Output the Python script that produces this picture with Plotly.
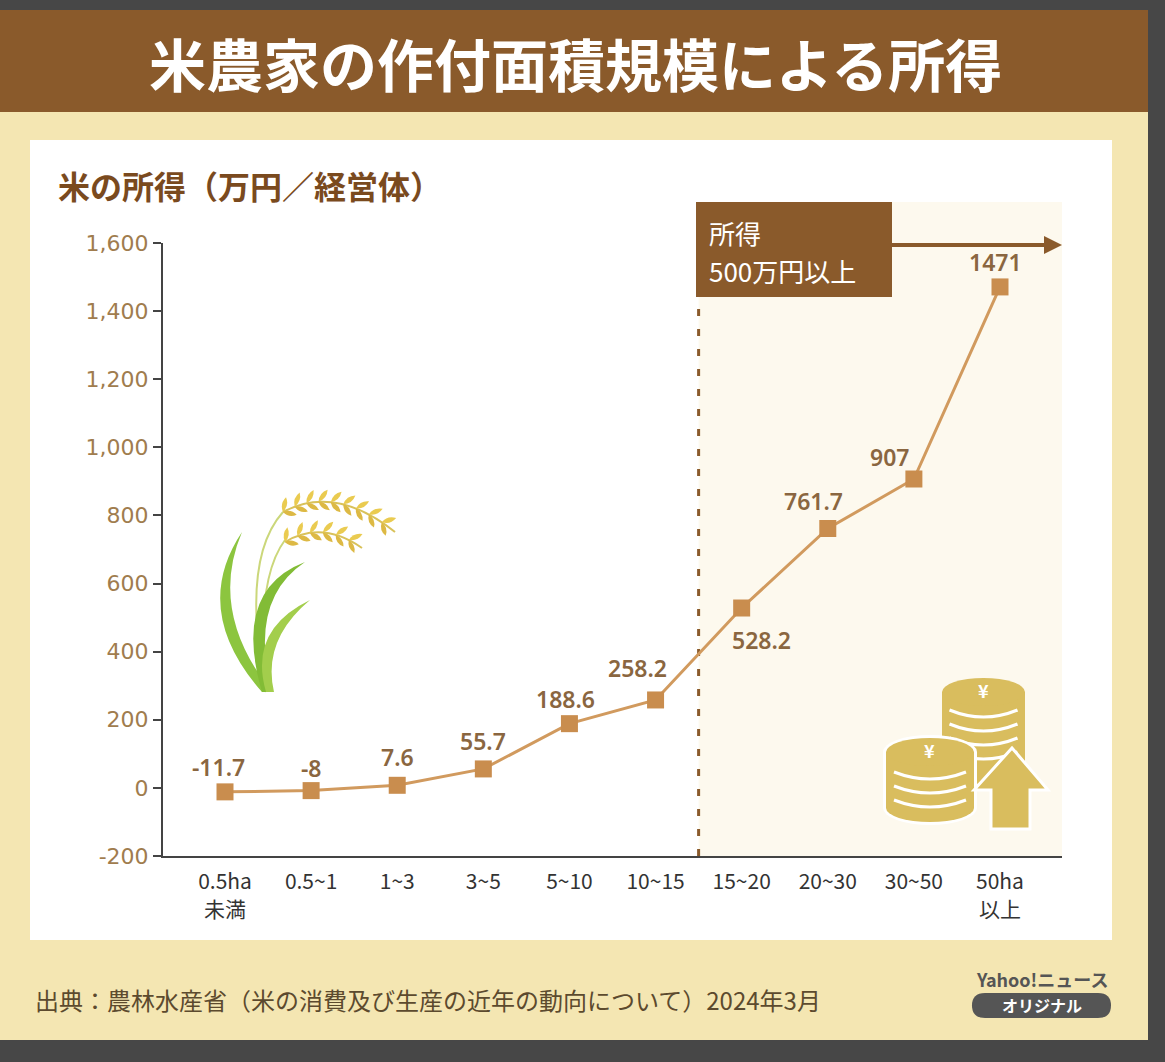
import plotly.graph_objects as go
import math

# chart data
categories = ["0.5ha<br>未満", "0.5~1", "1~3", "3~5", "5~10", "10~15",
              "15~20", "20~30", "30~50", "50ha<br>以上"]
income = [-11.7, -8, 7.6, 55.7, 188.6, 258.2, 528.2, 761.7, 907, 1471]
income_labels = ["-11.7", "-8", "7.6", "55.7", "188.6", "258.2",
                 "528.2", "761.7", "907", "1471"]
y_ticks = [-200, 0, 200, 400, 600, 800, 1000, 1200, 1400, 1600]
y_ticktext = ["-200", "0", "200", "400", "600", "800",
              "1,000", "1,200", "1,400", "1,600"]

W, H = 1165, 1062
FONT = "Noto Sans CJK JP"
BROWN = "#8A5A2B"
GOLD = "#D9BD5E"

# label offsets in px (dx, dy up)
label_shift = [(-7, 25), (0, 23), (0, 28), (0, 28), (-4, 25),
               (-18, 32), (20, -32), (-14, 27), (-24, 22), (-5, 25)]


def px(x, y):
    return x / W, 1 - y / H


def path(cmds):
    out = []
    for c in cmds:
        op, nums = c[0], c[1:]
        pts = []
        for i in range(0, len(nums), 2):
            a, b = px(nums[i], nums[i + 1])
            pts.append("%.5f,%.5f" % (a, b))
        out.append(op + " " + " ".join(pts))
    return " ".join(out)


shapes = []


def rect(x0, y0, x1, y1, color, layer="below"):
    a0, b0 = px(x0, y1)
    a1, b1 = px(x1, y0)
    shapes.append(dict(type="rect", xref="paper", yref="paper", x0=a0, y0=b0, x1=a1, y1=b1,
                       fillcolor=color, line=dict(width=0), layer=layer))


def ellipse(cx, cy, rx, ry, color, layer="above"):
    a0, b0 = px(cx - rx, cy + ry)
    a1, b1 = px(cx + rx, cy - ry)
    shapes.append(dict(type="circle", xref="paper", yref="paper", x0=a0, y0=b0, x1=a1, y1=b1,
                       fillcolor=color, line=dict(width=0), layer=layer))


def add_path(cmds, fill=None, line_color=None, width=0, layer="above", close=True):
    d = path(cmds) + (" Z" if close else "")
    shapes.append(dict(type="path", xref="paper", yref="paper", path=d,
                       fillcolor=fill if fill else "rgba(0,0,0,0)",
                       line=dict(color=line_color or "rgba(0,0,0,0)", width=width), layer=layer))


def grain(x, y, ang, length, wid, color):
    # small pointed oval, base at (x, y), pointing along ang (degrees, screen coords)
    ux, uy = math.cos(math.radians(ang)), math.sin(math.radians(ang))
    nx, ny = -uy, ux
    tx, ty = x + ux * length, y + uy * length
    mx, my = (x + tx) / 2, (y + ty) / 2
    add_path([("M", x, y), ("Q", mx + nx * wid, my + ny * wid, tx, ty),
              ("Q", mx - nx * wid, my - ny * wid, x, y)], fill=color)


# backgrounds
rect(0, 0, W, H, "#474747")
rect(0, 10, 1148, 1040, "#F4E6B2")
rect(0, 10, 1148, 112, BROWN)
rect(30, 140, 1112, 940, "#FFFFFF")
# highlighted zone
shapes.append(dict(type="rect", xref="x", yref="paper", x0=5.5, x1=9.72,
                   y0=px(0, 856)[1], y1=px(0, 202)[1], fillcolor="#FDF9EE",
                   line=dict(width=0), layer="below"))
shapes.append(dict(type="line", xref="x", yref="paper", x0=5.5, x1=5.5,
                   y0=px(0, 856)[1], y1=px(0, 304)[1],
                   line=dict(color=BROWN, width=3, dash="7px,13px"), layer="below"))
rect(696, 202, 892, 297, BROWN, layer="above")
add_path([("M", 892, 245), ("L", 1048, 245)], line_color=BROWN, width=4, close=False)
add_path([("M", 1044, 236), ("L", 1062, 245), ("L", 1044, 254)], fill=BROWN)

# rice plant
add_path([("M", 262, 692), ("Q", 190, 610, 242, 532), ("Q", 208, 612, 272, 692)], fill="#8CC53F")
add_path([("M", 266, 692), ("Q", 240, 560, 283, 512)], line_color="#CBD77A", width=2, close=False)
add_path([("M", 266, 692), ("Q", 255, 580, 285, 540)], line_color="#CBD77A", width=2, close=False)
add_path([("M", 262, 692), ("Q", 232, 590, 305, 562), ("Q", 248, 600, 272, 692)], fill="#82BC36")
add_path([("M", 266, 692), ("Q", 248, 630, 310, 600), ("Q", 262, 640, 274, 692)], fill="#A3CE4C")
for (sx, sy, cx, cy, ex, ey, n) in [(283, 512, 335, 484, 395, 532, 9), (285, 542, 322, 520, 362, 548, 6)]:
    add_path([("M", sx, sy), ("Q", cx, cy, ex, ey)], line_color="#D9C25A", width=2, close=False)
    for k in range(n):
        t = k / n
        gx = (1 - t) ** 2 * sx + 2 * (1 - t) * t * cx + t * t * ex
        gy = (1 - t) ** 2 * sy + 2 * (1 - t) * t * cy + t * t * ey
        dxt = 2 * (1 - t) * (cx - sx) + 2 * t * (ex - cx)
        dyt = 2 * (1 - t) * (cy - sy) + 2 * t * (ey - cy)
        base = math.degrees(math.atan2(dyt, dxt))
        grain(gx, gy, base - 50, 15, 5, "#EACB50")
        grain(gx, gy, base + 40, 14, 5, "#DDB944")

# coins - right stack
cx, top, bot = 983.5, 692, 770
rect(cx - 41.5, top, cx + 41.5, bot, GOLD, layer="above")
ellipse(cx, bot, 41.5, 14, GOLD)
ellipse(cx, top, 41.5, 14, GOLD)
for s in [710, 724, 738, 752]:
    add_path([("M", cx - 34, s), ("Q", cx, s + 14, cx + 34, s)], line_color="white", width=3, close=False)
# left stack with white outline
cx, top, bot = 930, 752, 808
rect(cx - 47, top, cx + 47, bot, "white", layer="above")
ellipse(cx, bot, 47, 17, "white")
ellipse(cx, top, 47, 17, "white")
rect(cx - 44, top, cx + 44, bot, GOLD, layer="above")
ellipse(cx, bot, 44, 14, GOLD)
ellipse(cx, top, 44, 14, GOLD)
for s in [772, 786, 800]:
    add_path([("M", cx - 36, s), ("Q", cx, s + 14, cx + 36, s)], line_color="white", width=3, close=False)
# arrow
add_path([("M", 1012, 748), ("L", 1048, 790), ("L", 1030, 790), ("L", 1030, 829),
          ("L", 991, 829), ("L", 991, 790), ("L", 974, 790)], fill=GOLD, line_color="white", width=3)

# yahoo pill
add_path([("M", 985, 993), ("L", 1098, 993), ("Q", 1111, 993, 1111, 1005.5), ("Q", 1111, 1018, 1098, 1018),
          ("L", 985, 1018), ("Q", 972, 1018, 972, 1005.5), ("Q", 972, 993, 985, 993)], fill="#555555")

fig = go.Figure()
x_idx = list(range(len(categories)))
fig.add_trace(go.Scatter(
    x=x_idx, y=income, mode="lines+markers",
    line=dict(color="#D19A5E", width=3),
    marker=dict(symbol="square", size=17, color="#C98D4E"),
    hoverinfo="skip", showlegend=False,
))

annotations = []
for i, (v, t) in enumerate(zip(income, income_labels)):
    dx, dy = label_shift[i]
    annotations.append(dict(x=i, y=v, xref="x", yref="y", text=t, showarrow=False,
                            xshift=dx, yshift=dy,
                            font=dict(family="Noto Sans", size=23, color="#8A6640", weight=600)))


def text(x, y, s, size, color, anchor="left", weight=400, family=FONT):
    a, b = px(x, y)
    annotations.append(dict(x=a, y=b, xref="paper", yref="paper", text=s, showarrow=False,
                            xanchor=anchor, yanchor="middle", align=anchor,
                            font=dict(family=family, size=size, color=color, weight=weight)))


text(575, 62, "米農家の作付面積規模による所得", 57, "white", anchor="center", weight=700)
text(56, 185, "米の所得（万円／経営体）", 32, "#7A4A1E", weight=700)
text(707, 232, "所得", 26, "white")
text(707, 270, "500万円以上", 26, "white")
text(33, 1000, "出典：農林水産省（米の消費及び生産の近年の動向について）2024年3月", 24, "#5C4A2E")
text(1042, 979, "Yahoo!ニュース", 18, "#555555", anchor="center", weight=700)
text(1042, 1005, "オリジナル", 16, "white", anchor="center", weight=700)
text(929, 750, "¥", 18, "white", anchor="center", weight=700)
text(983, 690, "¥", 18, "white", anchor="center", weight=700)

fig.update_layout(
    width=W, height=H,
    margin=dict(l=0, r=0, t=0, b=0, pad=0),
    paper_bgcolor="#474747",
    plot_bgcolor="rgba(0,0,0,0)",
    shapes=shapes,
    annotations=annotations,
    xaxis=dict(domain=[163 / W, 1062 / W], range=[-0.72, 9.72], automargin=False,
               tickvals=x_idx, ticktext=categories, showgrid=False, zeroline=False,
               showline=True, linecolor="#444444", linewidth=2, ticks="",
               ticklabelstandoff=6,
               tickfont=dict(family=FONT, size=21, color="#333333")),
    yaxis=dict(domain=[1 - 856 / H, 1 - 243 / H], range=[-200, 1600], automargin=False,
               tickvals=y_ticks, ticktext=y_ticktext, showgrid=False, zeroline=False,
               showline=True, linecolor="#444444", linewidth=2,
               ticks="outside", ticklen=8, tickwidth=2, tickcolor="#444444",
               tickfont=dict(family="DejaVu Sans", size=22, color="#A07C4E")),
)

fig.write_html("out.html", config={"displayModeBar": False},
               post_script="document.body.style.margin='0';")
